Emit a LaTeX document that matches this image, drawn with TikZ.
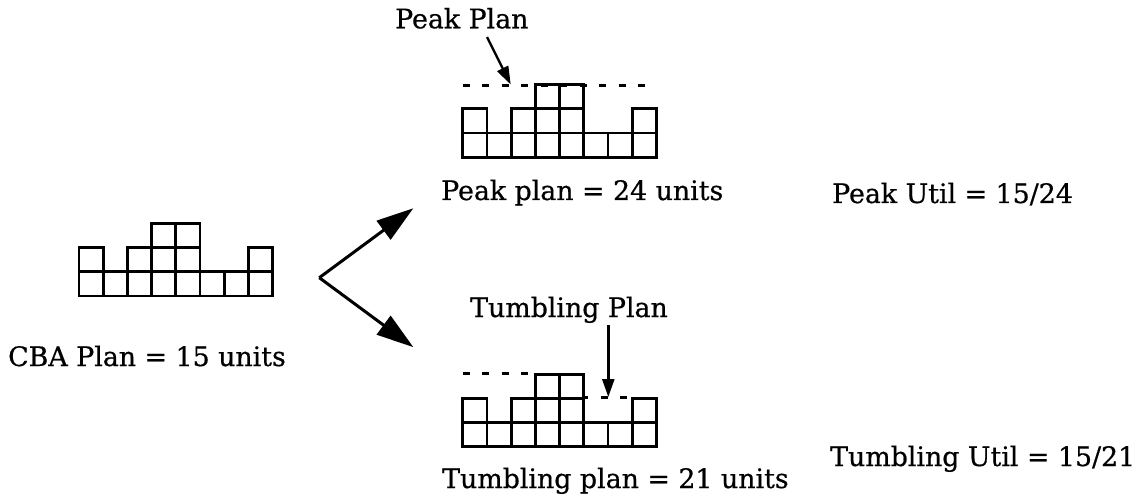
\documentclass[tikz,border=0pt]{standalone}
\usepackage{fontspec}
\setmainfont{DejaVu Serif}[RawFeature={embolden=0.6}]
\usetikzlibrary{arrows.meta}
\tikzset{
  lbl/.style={inner sep=0pt, anchor=base west, font=\fontsize{26.8}{30}\selectfont},
  cellline/.style={line width=2.8pt, line join=miter},
  dashline/.style={line width=2.8pt, dash pattern=on 7pt off 12.5pt},
  smallarrow/.style={line width=2.4pt, -{Triangle[length=18pt,width=12pt]}},
  bigarrow/.style={line width=3pt, -{Triangle[length=37pt,width=23pt]}},
}
\newcommand{\plangrid}[2]{%
  \begin{scope}[shift={(#1,#2)}, yscale=-1]
    \foreach \i/\h in {0/2,1/1,2/2,3/3,4/3,5/1,6/1,7/2}{
      \foreach \j in {1,...,\h}{
        \draw[cellline] (\i*24.2,\j*24.2-24.2) rectangle (\i*24.2+24.2,\j*24.2);
      }
    }
  \end{scope}}
\begin{document}
\begin{tikzpicture}[x=1pt,y=-1pt]
\useasboundingbox (0,0) rectangle (1137,497);
% grids
\plangrid{79}{296}
\plangrid{462.7}{157.3}
\plangrid{462.7}{446.7}
% dashed plan levels
\coordinate (pkL) at (462.7,85.7);
\coordinate (pkR) at (656.7,85.7);
\draw[dashline] (pkL) -- (pkR);
\coordinate (tbL) at (462.7,373.3);
\coordinate (tbM) at (536.7,373.3);
\draw[dashline] (tbL) -- (tbM);
\coordinate (tbR1) at (585,397.7);
\coordinate (tbR2) at (631,397.7);
\draw[dashline, dash phase=4pt] (tbR1) -- (tbR2);
% labels
\node[lbl] (peaklbl) at (395,28.3) {Peak Plan};
\node[lbl] (peakres) at (441,200) {Peak plan = 24 units};
\node[lbl] (peakutil) at (832,203) {Peak Util = 15/24};
\node[lbl] (cba) at (8,366) {CBA Plan = 15 units};
\node[lbl] (tumblbl) at (470,317) {Tumbling Plan};
\node[lbl] (tumbres) at (442,488) {Tumbling plan = 21 units};
\node[lbl] (tumbutil) at (830,466) {Tumbling Util = 15/21};
% pointer arrows
\coordinate (pkfrom) at (487,37);
\coordinate (pkto) at (510.7,84.5);
\draw[smallarrow] (pkfrom) -- (pkto);
\coordinate (tbfrom) at (608.3,325);
\coordinate (tbto) at (608.3,397);
\draw[smallarrow] (tbfrom) -- (tbto);
% fork arrows
\coordinate (fork) at (319.3,277.7);
\coordinate (uptip) at (413.3,208.3);
\coordinate (downtip) at (413.3,347.1);
\draw[bigarrow] (fork) -- (uptip);
\draw[bigarrow] (fork) -- (downtip);
\end{tikzpicture}
\end{document}
